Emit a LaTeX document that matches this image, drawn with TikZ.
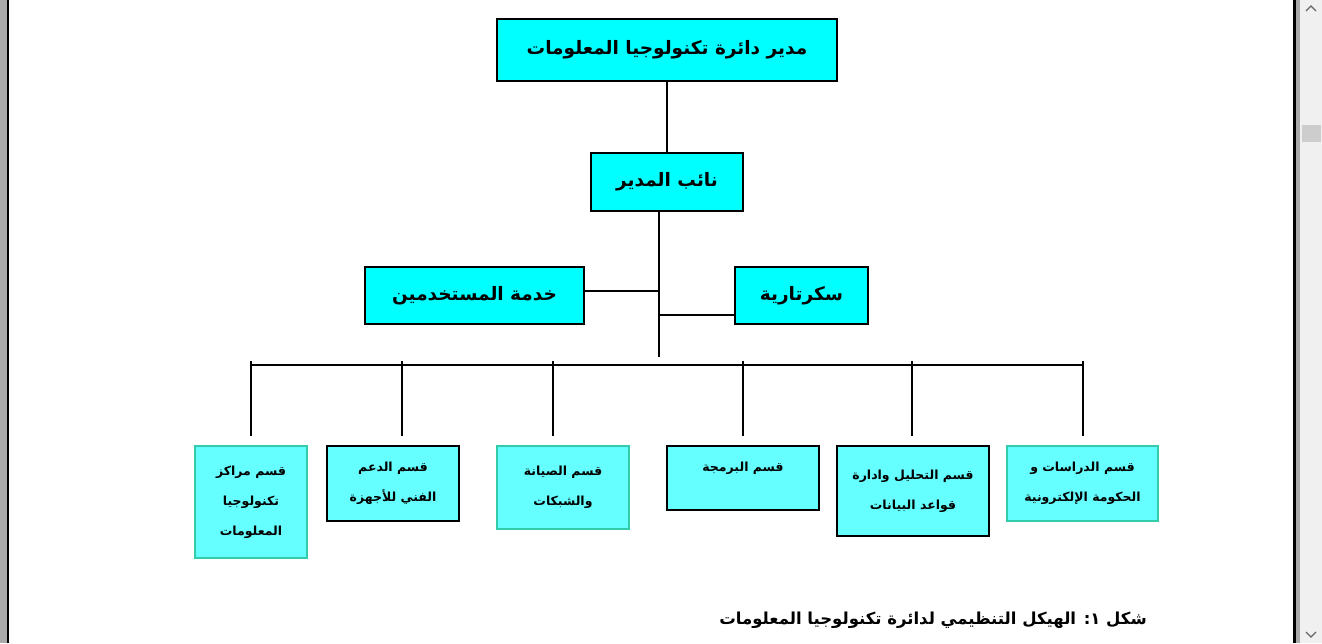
\documentclass[tikz,border=0pt]{standalone}
\usepackage{fontspec}
\TeXXeTstate=1
\newfontfamily\arabicfont[Script=Arabic]{DejaVu Sans}
\newcommand{\ar}[1]{\beginR #1\endR}
\definecolor{cyanA}{RGB}{0,255,255}
\definecolor{cyanB}{RGB}{102,255,255}
\definecolor{tealB}{RGB}{51,204,170}
\definecolor{winGray}{RGB}{170,170,170}
\definecolor{scrollBg}{RGB}{240,240,240}
\definecolor{thumbC}{RGB}{205,205,205}
\tikzset{
  topbox/.style={draw=black, line width=1.4pt, fill=cyanA, inner sep=0pt, align=center,
    font=\arabicfont\bfseries\fontsize{18.5}{22}\selectfont},
  subbox/.style={draw=black, line width=1.4pt, fill=cyanB, inner sep=0pt, align=center,
    font=\arabicfont\bfseries\fontsize{12.5}{30}\selectfont},
  tealbox/.style={subbox, draw=tealB},
  conn/.style={draw=black, line width=1.3pt},
}
\begin{document}
\begin{tikzpicture}[x=1pt, y=-1pt]
\useasboundingbox (0,0) rectangle (1322,643);
\fill[white] (0,0) rectangle (1322,643);
% window frame
\fill[winGray] (0,0) rectangle (7,643);
\fill[black] (7,0) rectangle (9,643);
\fill[black] (1293,0) rectangle (1296,643);
\fill[winGray] (1296,0) rectangle (1300,643);
\fill[scrollBg] (1300,0) rectangle (1322,643);
\fill[thumbC] (1302,125) rectangle (1321,142);
\draw[line width=1.3pt, black!60] (1306,11) -- (1311,6) -- (1316,11);
\draw[line width=1.3pt, black!60] (1306,632) -- (1311,637) -- (1316,632);

% nodes
\node[topbox, minimum width=340pt, minimum height=62pt] (top) at (667,50) {\ar{مدير دائرة تكنولوجيا المعلومات}};
\node[topbox, minimum width=152pt, minimum height=58pt] (dep) at (667,182) {\ar{نائب المدير}};
\node[topbox, minimum width=219pt, minimum height=57pt] (users) at (474.5,295.5) {\ar{خدمة المستخدمين}};
\node[topbox, minimum width=133pt, minimum height=57pt] (sec) at (801.5,295.5) {\ar{سكرتارية}};

\node[tealbox, minimum width=112pt, minimum height=112pt] (b1) at (251,502) {\ar{قسم مراكز}\\\ar{تكنولوجيا}\\\ar{المعلومات}};
\node[subbox, minimum width=132pt, minimum height=75pt] (b2) at (393,483.5) {\ar{قسم الدعم}\\\ar{الفني للأجهزة}};
\node[tealbox, minimum width=132pt, minimum height=83pt] (b3) at (563,487.5) {\ar{قسم الصيانة}\\\ar{والشبكات}};
\node[subbox, minimum width=152pt, minimum height=64pt, text depth=22pt] (b4) at (743,478) {\ar{قسم البرمجة}};
\node[subbox, minimum width=152pt, minimum height=90pt] (b5) at (913,491) {\ar{قسم التحليل وادارة}\\\ar{قواعد البيانات}};
\node[tealbox, minimum width=151pt, minimum height=75pt] (b6) at (1082.5,483.5) {\ar{قسم الدراسات و}\\\ar{الحكومة الإلكترونية}};

% caption
\node[anchor=east, inner sep=0pt, font=\arabicfont\bfseries\fontsize{16.5}{20}\selectfont] (cap) at (1147,620) {\ar{شكل ١: الهيكل التنظيمي لدائرة تكنولوجيا المعلومات}};

% connectors
\coordinate (s1) at (659,211);
\coordinate (s2) at (659,357);
\draw[conn] (top.south) -- (dep.north);
\draw[conn] (dep.south -| s1) -- (s2);
\draw[conn] ([yshift=4.5pt]users.east) -- ([yshift=4.5pt]users.east -| s1);
\draw[conn] ([yshift=-19.5pt]sec.west) -- ([yshift=-19.5pt]sec.west -| s1);

\coordinate (busL) at (251,365);
\coordinate (busR) at (1083,365);
\draw[conn] (busL) -- (busR);
\foreach \i/\x in {1/251,2/402,3/553,4/743,5/912,6/1083}{
  \coordinate (d\i) at (\x,361);
  \coordinate (e\i) at (\x,436);
  \draw[conn] (d\i) -- (e\i);
}
\end{tikzpicture}
\end{document}
